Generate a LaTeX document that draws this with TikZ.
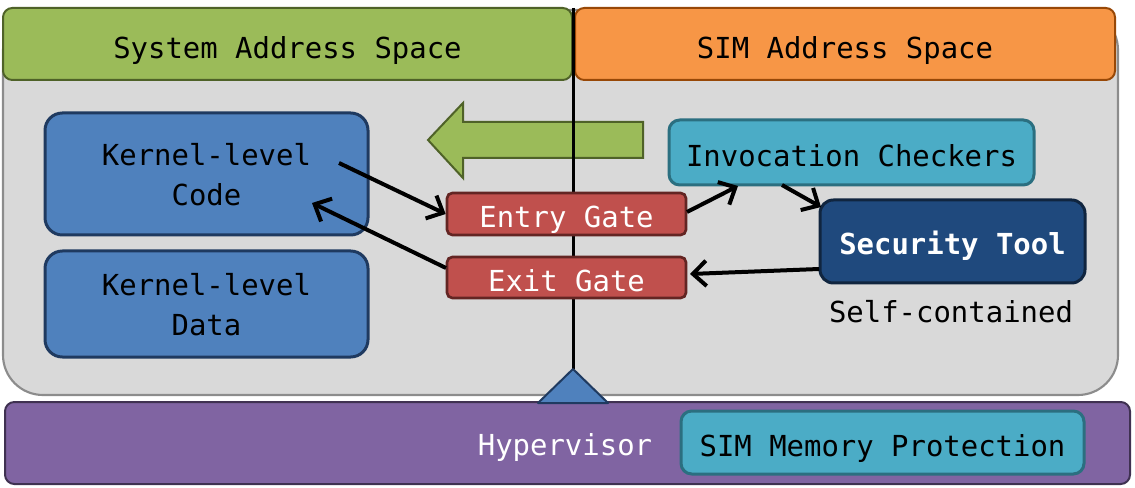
\documentclass[tikz,border=0pt]{standalone}
\usepackage{fontspec}
\newfontfamily\monof{DejaVu Sans Mono}
\usetikzlibrary{arrows.meta}
\definecolor{bgfill}{HTML}{D9D9D9}
\definecolor{bgdraw}{HTML}{8C8C8C}
\definecolor{grfill}{HTML}{9BBB59}
\definecolor{grdraw}{HTML}{4F6228}
\definecolor{orfill}{HTML}{F79646}
\definecolor{ordraw}{HTML}{984807}
\definecolor{bluefill}{HTML}{4F81BD}
\definecolor{bluedraw}{HTML}{1F3A60}
\definecolor{purfill}{HTML}{8064A2}
\definecolor{purdraw}{HTML}{3F3151}
\definecolor{tealfill}{HTML}{4BACC6}
\definecolor{tealdraw}{HTML}{2B6F80}
\definecolor{navyfill}{HTML}{1F497D}
\definecolor{navydraw}{HTML}{10253F}
\definecolor{redfill}{HTML}{C0504D}
\definecolor{reddraw}{HTML}{632523}
\begin{document}
\begin{tikzpicture}[x=0.75pt,y=-0.75pt,
  every node/.style={font=\monof\fontsize{21.7}{30}\selectfont, inner sep=0pt, align=center, text depth=0pt},
  header/.style={draw, line width=1.5pt, rounded corners=7pt, text height=22.5pt},
  kbox/.style={draw=bluedraw, fill=bluefill, line width=2.25pt, rounded corners=13pt},
  tbox/.style={draw=tealdraw, fill=tealfill, line width=2.25pt, rounded corners=8pt, text height=21pt},
  gatebox/.style={draw=reddraw, fill=redfill, line width=2pt, rounded corners=4pt, text=white, text height=21pt},
  conn/.style={line width=3pt, -{Straight Barb[length=10pt,width=19pt,line width=3pt]}}
]
\useasboundingbox (0,0) rectangle (1135,488);
% gray background
\node[draw=bgdraw, fill=bgfill, line width=1.6pt, rounded corners=30pt,
  minimum width=836.25pt, minimum height=288.75pt] (bg) at (560.5,202.5) {};
% headers
\node[header, draw=grdraw, fill=grfill, minimum width=426.75pt, minimum height=54pt] (sys) at (287.5,44) {System Address Space};
\node[header, draw=ordraw, fill=orfill, minimum width=405pt, minimum height=54pt] (sim) at (845,44) {SIM Address Space};
% hypervisor
\node[header, draw=purdraw, fill=purfill, minimum width=843.75pt, minimum height=61.5pt] (hyp) at (567.5,443) {};
\node[text=white] (hyplabel) at (565,445) {Hypervisor};
\node[tbox, minimum width=302.25pt, minimum height=47.25pt] (memprot) at (882.5,442.5) {SIM Memory Protection};
% green arrow
\draw[fill=grfill, draw=grdraw, line width=1.5pt] (428,140) -- (463,103) -- (463,122) -- (643,122) -- (643,158) -- (463,158) -- (463,178) -- cycle;
% divider and triangle
\coordinate (topdiv) at (573,8);
\coordinate (apex) at (573,369);
\draw[line width=2.25pt] (topdiv) -- (apex);
\draw[fill=bluefill, draw=bluedraw, line width=1.5pt, line join=round] (apex) -- (608,403) -- (538,403) -- cycle;
% kernel boxes
\node[kbox, minimum width=242.25pt, minimum height=91.5pt] (kcode) at (206.5,174) {Kernel-level\\Code};
\node[kbox, minimum width=242.25pt, minimum height=79.5pt] (kdata) at (206.5,304) {Kernel-level\\Data};
% SIM side
\node[tbox, minimum width=273.75pt, minimum height=48.75pt] (inv) at (851.5,152.5) {Invocation Checkers};
\node[draw=navydraw, fill=navyfill, line width=2.25pt, rounded corners=10pt, text=white, text height=19.5pt,
  minimum width=198.75pt, minimum height=62.25pt, font=\monof\bfseries\fontsize{21.7}{30}\selectfont] (sec) at (952.5,241.5) {Security Tool};
\node (selfc) at (951,311) {Self-contained};
% gates
\node[gatebox, minimum width=179.25pt, minimum height=31.5pt] (entry) at (566.5,214) {Entry Gate};
\node[gatebox, minimum width=179.25pt, minimum height=30.75pt] (exit) at (566.5,277.5) {Exit Gate};
% connectors
\coordinate (a1s) at (339,163);
\coordinate (a2s) at (446,268);
\coordinate (a2e) at (312,203);
\coordinate (a3s) at (687,212);
\coordinate (a3e) at (738,186);
\coordinate (a4s) at (782,185);
\coordinate (a4e) at (821,207);
\coordinate (a5s) at (819,269);
\coordinate (a5e) at (690,274);
\draw[conn] (a1s) -- (entry.west);
\draw[conn] (a2s) -- (a2e);
\draw[conn] (a3s) -- (a3e);
\draw[conn] (a4s) -- (a4e);
\draw[conn] (a5s) -- (a5e);
\end{tikzpicture}
\end{document}
